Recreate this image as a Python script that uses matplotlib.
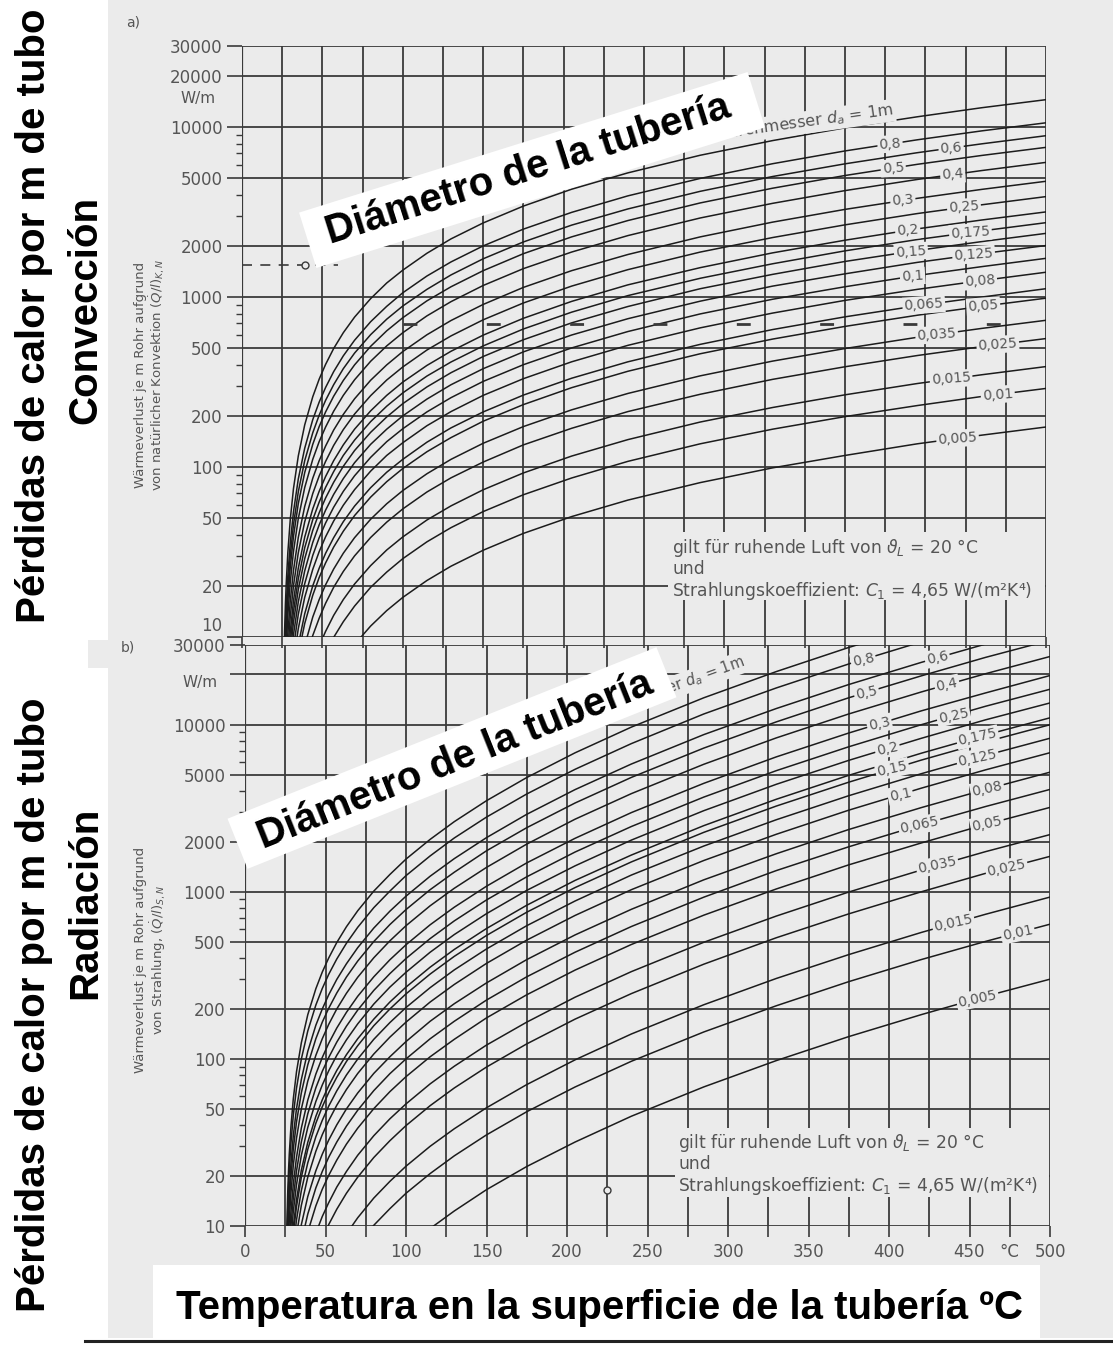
import numpy as np
import matplotlib
matplotlib.use("Agg")
import matplotlib.pyplot as plt
from matplotlib.patches import Rectangle
from matplotlib.transforms import IdentityTransform

W, H = 1113, 1349
PAPER = "#ebebeb"
GRID = "#3a3a3a"
CURVE = "#1c1c1c"
PRINT = "#555555"

# pipe outer diameters (m) and their printed labels
diameters = [1.0, 0.8, 0.6, 0.5, 0.4, 0.3, 0.25, 0.2, 0.175, 0.15, 0.125, 0.1,
             0.08, 0.065, 0.05, 0.035, 0.025, 0.015, 0.01, 0.005]
diam_labels = ["0,8", "0,6", "0,5", "0,4", "0,3", "0,25", "0,2", "0,175", "0,15",
               "0,125", "0,1", "0,08", "0,065", "0,05", "0,035", "0,025", "0,015",
               "0,01", "0,005"]

# surface temperatures (degC) at which the curves are tabulated
temps = [25.3, 25.5, 25.7, 26, 26.5, 27, 27.5, 28.5, 30, 32, 35, 39, 44, 48, 52, 57,
         63, 70, 80, 90, 100, 115, 130, 150, 175, 205, 240, 285, 330, 375, 420, 460, 500]

# a) natural convection, W per m of pipe; row i starts at temps[conv_start[i]]
conv_start = [3, 4, 5, 5, 6, 6, 7, 7, 8, 8, 8, 9, 9, 10, 10, 11, 11, 12, 14, 16]
conv_loss = [
    [6.54, 10.9, 15.6, 20.6, 31.3, 48.9, 74.5, 116, 177, 259, 329, 402, 498, 617, 762, 979, 1210, 1440, 1810, 2200, 2730, 3430, 4310, 5380, 6830, 8330, 9900, 11500, 13000, 14500],
    [7.94, 11.4, 15.0, 22.9, 35.7, 54.4, 85.0, 129, 190, 241, 294, 364, 451, 557, 716, 882, 1060, 1330, 1610, 2000, 2510, 3150, 3940, 4990, 6090, 7240, 8420, 9500, 10600],
    [9.55, 12.6, 19.2, 30.0, 45.7, 71.4, 109, 159, 202, 247, 305, 379, 468, 601, 741, 886, 1110, 1350, 1680, 2110, 2650, 3300, 4190, 5120, 6080, 7070, 7970, 8900],
    [8.15, 10.8, 16.4, 25.6, 39.0, 60.9, 92.8, 136, 173, 211, 261, 323, 399, 513, 633, 756, 950, 1150, 1430, 1800, 2260, 2820, 3580, 4370, 5190, 6040, 6810, 7600],
    [8.79, 13.4, 20.9, 31.8, 49.7, 75.7, 111, 141, 172, 213, 264, 326, 419, 516, 617, 775, 940, 1170, 1470, 1840, 2300, 2920, 3560, 4230, 4920, 5550, 6200],
    [6.80, 10.4, 16.2, 24.6, 38.5, 58.6, 85.9, 109, 133, 165, 204, 252, 324, 399, 478, 600, 728, 905, 1140, 1430, 1780, 2260, 2760, 3280, 3810, 4300, 4800],
    [8.42, 13.1, 20.0, 31.3, 47.6, 69.8, 88.6, 108, 134, 166, 205, 263, 325, 388, 488, 591, 735, 923, 1160, 1450, 1840, 2240, 2660, 3100, 3490, 3900],
    [6.84, 10.7, 16.3, 25.4, 38.7, 56.7, 72.0, 88.0, 109, 135, 167, 214, 264, 316, 396, 480, 597, 750, 943, 1180, 1490, 1820, 2160, 2520, 2840, 3170],
    [9.24, 14.1, 22.0, 33.5, 49.0, 62.2, 76.0, 94.0, 117, 144, 185, 228, 273, 343, 415, 516, 649, 815, 1020, 1290, 1570, 1870, 2180, 2450, 2740],
    [7.99, 12.2, 19.0, 28.9, 42.4, 53.8, 65.8, 81.3, 101, 125, 160, 197, 236, 296, 359, 447, 561, 705, 880, 1120, 1360, 1620, 1880, 2120, 2370],
    [6.78, 10.3, 16.1, 24.5, 36.0, 45.7, 55.8, 69.0, 85.5, 106, 136, 167, 200, 251, 305, 379, 476, 598, 746, 946, 1160, 1370, 1600, 1800, 2010],
    [8.68, 13.6, 20.6, 30.2, 38.4, 46.9, 58.0, 71.9, 88.8, 114, 141, 168, 211, 256, 319, 400, 502, 627, 796, 971, 1150, 1340, 1510, 1690],
    [7.19, 11.2, 17.1, 25.0, 31.8, 38.9, 48.1, 59.6, 73.6, 94.6, 117, 139, 175, 212, 264, 331, 416, 520, 659, 805, 956, 1110, 1250, 1400],
    [8.98, 13.7, 20.0, 25.4, 31.1, 38.4, 47.7, 58.9, 75.6, 93.2, 111, 140, 170, 211, 265, 333, 416, 527, 644, 765, 889, 1000, 1120],
    [7.90, 12.0, 17.6, 22.4, 27.3, 33.8, 41.9, 51.8, 66.5, 82.0, 98.0, 123, 149, 186, 233, 293, 366, 464, 566, 672, 782, 882, 985],
    [8.91, 13.1, 16.6, 20.3, 25.1, 31.1, 38.4, 49.3, 60.8, 72.7, 91.3, 111, 138, 173, 217, 271, 344, 420, 498, 580, 654, 730],
    [6.96, 10.2, 12.9, 15.8, 19.6, 24.3, 30.0, 38.5, 47.4, 56.7, 71.3, 86.4, 107, 135, 169, 212, 268, 328, 389, 453, 511, 570],
    [6.98, 8.86, 10.8, 13.4, 16.6, 20.5, 26.3, 32.5, 38.8, 48.8, 59.1, 73.5, 92.3, 116, 145, 184, 224, 266, 310, 349, 390],
    [8.05, 9.95, 12.3, 15.2, 19.6, 24.1, 28.9, 36.3, 44.0, 54.7, 68.7, 86.2, 108, 137, 167, 198, 230, 260, 290],
    [7.32, 9.04, 11.6, 14.3, 17.1, 21.5, 26.1, 32.4, 40.7, 51.1, 63.9, 81.0, 98.9, 117, 137, 154, 172],
]

# b) radiation, W per m of pipe; row i starts at temps[rad_start[i]]
rad_start = [3, 3, 4, 4, 5, 6, 7, 7, 8, 8, 8, 9, 9, 10, 11, 12, 12, 16, 16, 20]
rad_loss = [
    [9.93, 15.4, 21.1, 26.9, 38.9, 57.7, 83.9, 125, 184, 263, 331, 402, 497, 618, 770, 1010, 1270, 1570, 2060, 2630, 3510, 4830, 6790, 9680, 14500, 20800, 29000, 39300],
    [7.91, 12.3, 16.8, 21.5, 31.0, 46.0, 66.9, 99.9, 147, 210, 264, 321, 396, 492, 613, 804, 1010, 1250, 1640, 2100, 2800, 3850, 5410, 7710, 11600, 16600, 23100, 31300],
    [9.28, 12.7, 16.2, 23.4, 34.7, 50.5, 75.4, 111, 159, 199, 242, 299, 371, 463, 607, 766, 942, 1240, 1580, 2110, 2910, 4090, 5820, 8730, 12500, 17400, 23600, 30400],
    [7.71, 10.5, 13.5, 19.5, 28.9, 42.0, 62.7, 92.2, 132, 166, 201, 248, 309, 385, 504, 637, 783, 1030, 1310, 1760, 2420, 3400, 4840, 7250, 10400, 14500, 19600, 25300, 32000],
    [8.44, 10.8, 15.6, 23.1, 33.6, 50.2, 73.7, 105, 132, 161, 199, 247, 308, 403, 509, 627, 825, 1050, 1400, 1930, 2720, 3870, 5800, 8340, 11600, 15700, 20200, 25600],
    [8.29, 12.0, 17.8, 25.8, 38.6, 56.7, 81.1, 102, 124, 153, 190, 237, 310, 392, 482, 635, 809, 1080, 1490, 2090, 2980, 4460, 6420, 8920, 12100, 15500, 19700],
    [9.92, 14.7, 21.4, 31.9, 47.0, 67.1, 84.3, 102, 126, 157, 196, 257, 324, 399, 525, 670, 894, 1230, 1730, 2460, 3690, 5310, 7380, 10000, 12900, 16300],
    [8.21, 12.2, 17.7, 26.5, 38.9, 55.6, 69.8, 84.9, 105, 130, 162, 213, 269, 330, 435, 555, 740, 1020, 1430, 2040, 3060, 4400, 6120, 8290, 10700, 13500],
    [9.92, 14.4, 21.6, 31.7, 45.3, 56.9, 69.1, 85.3, 106, 132, 173, 219, 269, 354, 452, 603, 831, 1170, 1660, 2490, 3580, 4980, 6750, 8680, 11000],
    [9.02, 13.1, 19.6, 28.8, 41.2, 51.7, 62.9, 77.6, 96.5, 120, 158, 199, 245, 322, 411, 548, 755, 1060, 1510, 2270, 3260, 4530, 6140, 7890, 10000],
    [7.48, 10.9, 16.3, 23.9, 34.2, 42.9, 52.2, 64.4, 80.1, 99.8, 131, 165, 203, 267, 341, 455, 627, 881, 1260, 1880, 2700, 3760, 5090, 6550, 8300],
    [8.92, 13.3, 19.6, 28.0, 35.2, 42.7, 52.8, 65.6, 81.8, 107, 135, 166, 219, 279, 373, 514, 722, 1030, 1540, 2210, 3080, 4170, 5370, 6800],
    [6.82, 10.2, 15.0, 21.4, 26.9, 32.7, 40.3, 50.2, 62.5, 81.9, 103, 127, 168, 214, 285, 393, 552, 786, 1180, 1690, 2360, 3190, 4100, 5200],
    [8.03, 11.8, 16.9, 21.2, 25.8, 31.8, 39.6, 49.3, 64.6, 81.6, 100, 132, 168, 225, 310, 435, 620, 929, 1340, 1860, 2520, 3240, 4100],
    [9.22, 13.2, 16.6, 20.1, 24.8, 30.9, 38.5, 50.4, 63.7, 78.3, 103, 131, 176, 242, 340, 484, 725, 1040, 1450, 1960, 2530, 3200],
    [9.06, 11.4, 13.8, 17.1, 21.2, 26.5, 34.7, 43.8, 53.8, 70.9, 90.4, 121, 166, 234, 333, 499, 716, 997, 1350, 1740, 2200],
    [6.71, 8.43, 10.2, 12.6, 15.7, 19.6, 25.7, 32.4, 39.9, 52.5, 67.0, 89.4, 123, 173, 246, 369, 531, 738, 1000, 1290, 1630],
    [8.97, 11.2, 14.7, 18.5, 22.8, 30.0, 38.2, 51.0, 70.2, 98.7, 141, 211, 303, 421, 571, 734, 930],
    [6.18, 7.70, 10.1, 12.7, 15.7, 20.6, 26.3, 35.1, 48.3, 67.9, 96.8, 145, 208, 290, 393, 505, 640],
    [7.34, 9.66, 12.3, 16.5, 22.7, 31.8, 45.4, 68.0, 97.7, 136, 184, 237, 300],
]

conv_label_x = [403, 441, 405, 442, 411, 449, 414, 453, 416, 455, 417, 459, 424, 461,
                432, 470, 441, 470, 445]
rad_label_x = [384, 430, 386, 436, 394, 440, 399, 455, 402, 455, 407, 461, 419, 461,
               430, 473, 440, 480, 455]

y_major = [10, 20, 50, 100, 200, 500, 1000, 2000, 5000, 10000, 20000, 30000]
y_minor = [30, 40, 60, 70, 80, 90, 300, 400, 600, 700, 800, 900,
           3000, 4000, 6000, 7000, 8000, 9000]
x_lines = np.arange(25, 501, 25)

fig = plt.figure(figsize=(W / 100, H / 100), dpi=100)
fig.patch.set_facecolor("white")


def rect_px(x0, y0, x1, y1, color, z):
    fig.add_artist(Rectangle((x0 / W, 1 - y1 / H), (x1 - x0) / W, (y1 - y0) / H,
                             transform=fig.transFigure, fc=color, ec="none", zorder=z))


def text_px(x, y, s, **kw):
    return fig.text(x / W, 1 - y / H, s, **kw)


def curve_xy(start, vals):
    xs = np.array(temps[start:start + len(vals)])
    return xs, np.array(vals, dtype=float)


# scanned sheet
rect_px(108, 0, W, 1338, PAPER, -2)
rect_px(88, 640, 108, 668, PAPER, -2)


def make_panel(l, t, r, b, starts, losses, label_x, label_rot, xlabels, ylabels):
    ax = fig.add_axes([l / W, 1 - b / H, (r - l) / W, (b - t) / H])
    ax.set_facecolor("none")
    ax.set_yscale("log")
    ax.set_xlim(0, 500)
    ax.set_ylim(10, 30000)
    for s in ax.spines.values():
        s.set_visible(False)
    ax.axvline(0, color=GRID, lw=1.6, zorder=1)
    for xv in x_lines:
        ax.axvline(xv, color=GRID, lw=1.3, zorder=1)
    for yv in y_major:
        ax.axhline(yv, color=GRID, lw=1.3, zorder=1)
    ax.set_yticks(y_major)
    ax.set_yticklabels(ylabels, family="DejaVu Sans")
    ax.set_yticks(y_minor, minor=True)
    ax.set_yticklabels([], minor=True)
    ax.tick_params(axis="y", which="major", direction="out", length=11, width=1.2,
                   color=GRID, labelsize=12, labelcolor=PRINT, pad=3)
    ax.tick_params(axis="y", which="minor", direction="out", length=4, width=1.0,
                   color=GRID)
    ax.set_xticks(np.arange(0, 501, 25))
    if xlabels:
        labs = []
        for v in range(0, 501, 25):
            if v == 475:
                labs.append("°C")
            elif v % 50 == 0:
                labs.append(str(v))
            else:
                labs.append("")
        ax.set_xticklabels(labs, family="DejaVu Sans")
        ax.tick_params(axis="x", direction="out", length=8, width=1.2, color=GRID,
                       labelsize=12, labelcolor=PRINT, pad=4)
    else:
        ax.tick_params(axis="x", direction="out", length=8, width=1.2, color=GRID,
                       labelbottom=False)
    curves = []
    for st, vals in zip(starts, losses):
        xs, qs = curve_xy(st, vals)
        ax.plot(xs, qs, color=CURVE, lw=1.1, zorder=2)
        curves.append((xs, qs))
    for i, lab in enumerate(diam_labels):
        xs, qs = curves[i + 1]
        lx = label_x[i]
        ly = 10 ** np.interp(lx, xs, np.log10(qs))
        ax.text(lx, ly, lab, ha="center", va="center", fontsize=10, color=PRINT,
                rotation=label_rot, rotation_mode="anchor",
                bbox=dict(boxstyle="square,pad=0.12", fc=PAPER, ec="none"), zorder=3)
    return ax, curves


top_labels = [""] + [str(v) for v in y_major[1:]]
bottom_labels = [str(v) if v != 20000 else "" for v in y_major]
ax1, conv_curves = make_panel(242, 46, 1046, 637, conv_start, conv_loss,
                              conv_label_x, 4, False, top_labels)
ax2, rad_curves = make_panel(245, 645, 1050, 1226, rad_start, rad_loss,
                             rad_label_x, 12, True, bottom_labels)
text_px(222, 626, "10", fontsize=12, color=PRINT, ha="right", va="center")

# captions of the largest diameter
xs, qs = conv_curves[0]
q1 = 10 ** np.interp(405, xs, np.log10(qs)) * 1.15
ax1.text(405, q1, "Rohrdurchmesser $d_a$ = 1m", ha="right", va="center", fontsize=11.5,
         color=PRINT, rotation=8, rotation_mode="anchor",
         bbox=dict(boxstyle="square,pad=0.12", fc=PAPER, ec="none"), zorder=3)
xs, qs = rad_curves[0]
q2 = 10 ** np.interp(310, xs, np.log10(qs)) * 1.35
ax2.text(310, q2, "Rohrdurchmesser $d_a$ = 1m", ha="right", va="center", fontsize=10.5,
         color=PRINT, rotation=20, rotation_mode="anchor",
         bbox=dict(boxstyle="square,pad=0.12", fc=PAPER, ec="none"), zorder=3)

# reading example
ax1.plot([0, 60], [1550, 1550], color=GRID, lw=1.2, ls=(0, (6, 5)), zorder=2)
ax1.plot([39], [1550], marker="o", ms=5, mfc=PAPER, mec=GRID, zorder=3)
ax1.plot([100, 500], [690, 690], color=GRID, lw=2.0, ls=(0, (5, 25)), zorder=2)
ax2.plot([225], [16.5], marker="o", ms=5, mfc=PAPER, mec=GRID, zorder=3)

# validity note in each panel
note = ("gilt für ruhende Luft von $\\vartheta_L$ = 20 °C\nund\n"
        "Strahlungskoeffizient: $C_1$ = 4,65 W/(m²K⁴)")
rect_px(668, 532, 1045, 600, PAPER, 1)
text_px(672, 537, note, fontsize=12.3, color=PRINT, va="top", linespacing=1.1, zorder=2)
rect_px(675, 1128, 1049, 1197, PAPER, 1)
text_px(678, 1132, note, fontsize=12.3, color=PRINT, va="top", linespacing=1.1, zorder=2)

# printed axis captions
text_px(133, 22, "a)", fontsize=10, color=PRINT, va="center", ha="center")
text_px(128, 648, "b)", fontsize=10, color=PRINT, va="center", ha="center")
text_px(198, 99, "W/m", fontsize=11, color=PRINT, va="center", ha="center")
text_px(200, 683, "W/m", fontsize=11, color=PRINT, va="center", ha="center")
text_px(151, 375, "Wärmeverlust je m Rohr aufgrund\nvon natürlicher Konvektion $(\\dot{Q}/l)_{K,N}$",
        fontsize=9.5, color=PRINT, rotation=90, va="center", ha="center", linespacing=1.1)
text_px(151, 960, "Wärmeverlust je m Rohr aufgrund\nvon Strahlung, $(\\dot{Q}/l)_{S,N}$",
        fontsize=9.5, color=PRINT, rotation=90, va="center", ha="center", linespacing=1.1)
text_px(615, 1273, "Rohroberflächentemperatur $\\vartheta_R$", fontsize=10, color=PRINT,
        va="center", ha="center")

# Spanish captions on top of the sheet
rect_px(153, 1265, 1040, 1338, "white", 4)
fig.add_artist(plt.Line2D([85 / W, 1.0], [1 - 1341 / H, 1 - 1341 / H],
                          transform=fig.transFigure, color="#222222", lw=2.2, zorder=5))
bold = dict(family="Liberation Sans", weight="bold", color="black", zorder=6)
text_px(34, 316, "Pérdidas de calor por m de tubo", fontsize=29, rotation=90,
        ha="center", va="center", **bold)
text_px(85, 310, "Convección", fontsize=29, rotation=90, ha="center", va="center", **bold)
text_px(34, 1005, "Pérdidas de calor por m de tubo", fontsize=29, rotation=90,
        ha="center", va="center", **bold)
text_px(85, 903, "Radiación", fontsize=29, rotation=90, ha="center", va="center", **bold)
text_px(600, 1308, "Temperatura en la superficie de la tubería ºC", fontsize=29,
        ha="center", va="center", **bold)


def white_band(cx, cy, w, h, angle):
    fig.add_artist(Rectangle((cx - w / 2, H - cy - h / 2), w, h, angle=angle,
                             rotation_point="center", transform=IdentityTransform(),
                             fc="white", ec="none", zorder=5))


white_band(532, 170, 470, 58, 17.4)
text_px(528, 170, "Diámetro de la tubería", fontsize=29, rotation=17.6, ha="center",
        va="center", rotation_mode="anchor", **bold)
white_band(452, 758, 462, 54, 21.8)
text_px(455, 760, "Diámetro de la tubería", fontsize=29, rotation=21.8, ha="center",
        va="center", rotation_mode="anchor", **bold)

fig.savefig("out.png", dpi=100, facecolor="white")
